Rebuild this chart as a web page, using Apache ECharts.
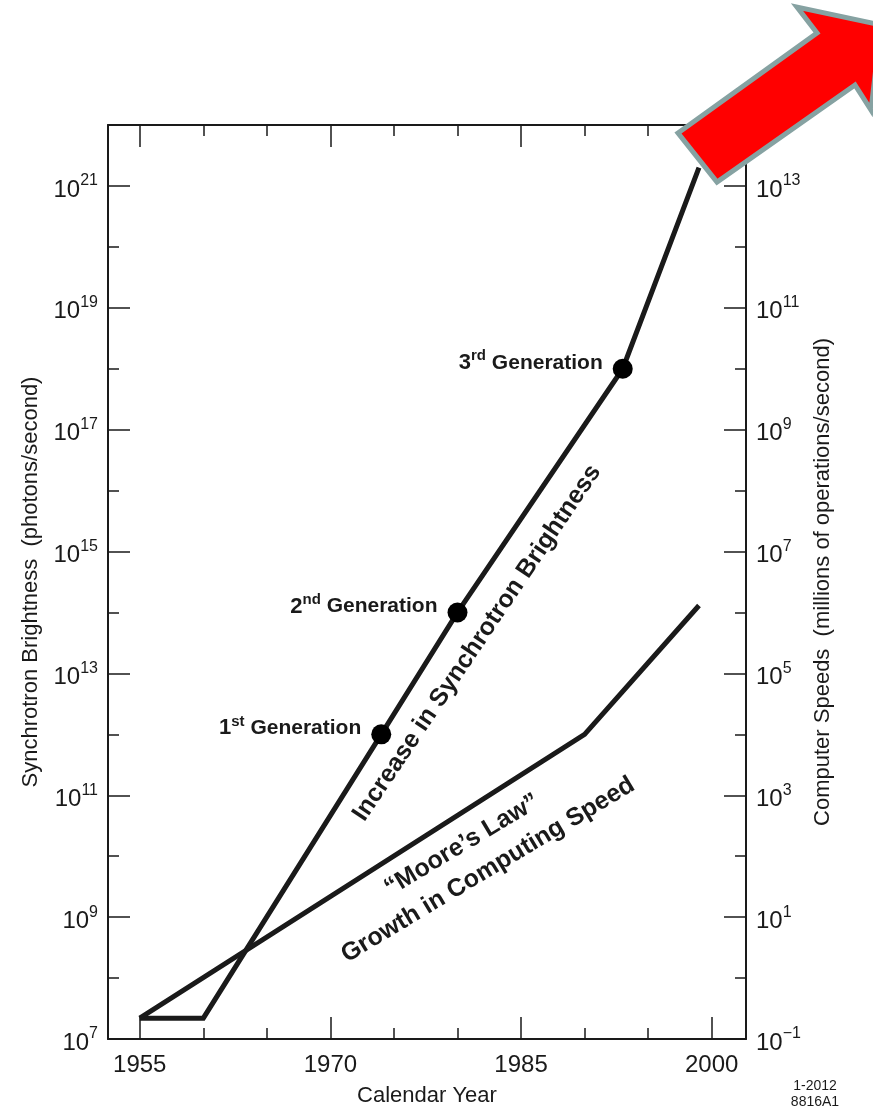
<!DOCTYPE html>
<html>
<head>
<meta charset="utf-8">
<title>Synchrotron Brightness and Computer Speeds</title>
<script src="https://cdn.jsdelivr.net/npm/echarts@6/dist/echarts.min.js"></script>
<style>
    html, body { margin: 0; padding: 0; background: #fff; }
    #chart { width: 873px; height: 1112px; }
</style>
</head>
<body>
<div id="chart"></div>
<script>
// calendar year ticks
const yearMajor = [1955, 1970, 1985, 2000];
const yearMinor = [1955, 1960, 1965, 1970, 1975, 1980, 1985, 1990, 1995, 2000];

// synchrotron brightness, photons/second (left axis)
const brightYears = [1955, 1960, 1974, 1980, 1993, 1999];
const brightValues = [2.2e7, 2.2e7, 1e12, 1e14, 1e18, 2e21];

// generation markers sitting on the brightness curve
const genYears = [1974, 1980, 1993];
const genValues = [1e12, 1e14, 1e18];
const genNum = ['1', '2', '3'];
const genSuffix = ['st', 'nd', 'rd'];

// computer speed, millions of operations/second (right axis)
const mooreYears = [1955, 1990, 1999];
const mooreValues = [0.22, 1e4, 1.3e6];

// decades (powers of ten) spanned by each vertical axis
const leftDecades = [7, 22];
const rightDecades = [-1, 14];

const font = '"Liberation Sans", Arial, Helvetica, sans-serif';
const ink = '#1a1a1a';

const powRich = {
    b: {fontSize: 24, lineHeight: 34, fontFamily: font, color: ink}
    , s: {fontSize: 16, lineHeight: 17, verticalAlign: 'top', fontFamily: font, color: ink}
};

// only odd decades carry a label, e.g. 10^21
function powLabel(v) {
    if (Math.abs(v % 2) !== 1) {
        return '';
    }
    const e = v < 0 ? '\u2212' + Math.abs(v) : String(v);
    return '{b|10}{s|' + e + '}';
}

function yMajor(pos, range, name, gap) {
    return {
        type: 'value'
        , position: pos
        , min: range[0]
        , max: range[1]
        , interval: 2
        , name: name
        , nameLocation: 'middle'
        , nameGap: gap
        , nameRotate: 90
        , nameTextStyle: {fontSize: 22, fontFamily: font, color: ink}
        , axisLine: {show: true, onZero: false, lineStyle: {color: ink, width: 2}}
        , axisTick: {show: true, inside: true, length: 22, lineStyle: {color: ink, width: 1.5}}
        , axisLabel: {show: true, margin: 10, padding: [8, 0, 0, 0], formatter: powLabel, rich: powRich}
        , splitLine: {show: false}
    };
}

function yMinor(pos, range) {
    return {
        type: 'value'
        , position: pos
        , min: range[0]
        , max: range[1]
        , interval: 1
        , axisLine: {show: false, onZero: false}
        , axisTick: {show: true, inside: true, length: 11, lineStyle: {color: ink, width: 1.5}}
        , axisLabel: {show: false}
        , splitLine: {show: false}
    };
}

function xAxisDef(pos, ticks, len, withLabels) {
    const axis = {
        type: 'value'
        , position: pos
        , min: 1952.5
        , max: 2002.7
        , axisLine: {show: len > 20, onZero: false, lineStyle: {color: ink, width: 2}}
        , axisTick: {show: true, inside: true, length: len, customValues: ticks, lineStyle: {color: ink, width: 1.5}}
        , axisLabel: {show: false}
        , splitLine: {show: false}
    };
    if (withLabels) {
        axis.axisLabel = {
            show: true
            , customValues: ticks
            , margin: 14
            , fontSize: 24
            , fontFamily: font
            , color: ink
            , formatter: function (v) {
                return String(v);
            }
        };
        axis.name = 'Calendar Year';
        axis.nameLocation = 'middle';
        axis.nameGap = 46;
        axis.nameTextStyle = {fontSize: 22, fontFamily: font, color: ink};
    }
    return axis;
}

const brightData = brightYears.map(function (y, i) {
    return [y, Math.log10(brightValues[i])];
});
const mooreData = mooreYears.map(function (y, i) {
    return [y, Math.log10(mooreValues[i])];
});
const genData = genYears.map(function (y, i) {
    return [y, Math.log10(genValues[i])];
});

const deg = Math.PI / 180;
const arrowPoints = [[678, 133], [817, 33], [797, 7], [881, 25], [871, 110], [855, 85], [717, 182]];

const chart = echarts.init(document.getElementById('chart'));
chart.setOption({
    animation: false
    , backgroundColor: '#fff'
    , textStyle: {fontFamily: font}
    , grid: {left: 108, right: 127, top: 125, bottom: 72, containLabel: false}
    , xAxis: [
        xAxisDef('bottom', yearMajor, 22, true)
        , xAxisDef('bottom', yearMinor, 11, false)
        , xAxisDef('top', yearMajor, 22, false)
        , xAxisDef('top', yearMinor, 11, false)
    ]
    , yAxis: [
        yMajor('left', leftDecades, 'Synchrotron Brightness  (photons/second)', 66)
        , yMajor('right', rightDecades, 'Computer Speeds  (millions of operations/second)', 61)
        , yMinor('left', leftDecades)
        , yMinor('right', rightDecades)
    ]
    , series: [
        {
            type: 'line'
            , name: 'Synchrotron Brightness'
            , xAxisIndex: 0
            , yAxisIndex: 0
            , data: brightData
            , symbol: 'none'
            , lineStyle: {color: ink, width: 5, join: 'miter'}
            , z: 3
        }
        , {
            type: 'line'
            , name: 'Computer Speed'
            , xAxisIndex: 0
            , yAxisIndex: 1
            , data: mooreData
            , symbol: 'none'
            , lineStyle: {color: ink, width: 5, join: 'miter'}
            , z: 3
        }
        , {
            type: 'scatter'
            , name: 'Generations'
            , xAxisIndex: 0
            , yAxisIndex: 0
            , data: genData
            , symbolSize: 20
            , itemStyle: {color: '#000', opacity: 1}
            , label: {
                show: true
                , position: 'left'
                , distance: 10
                , offset: [0, -6]
                , formatter: function (p) {
                    return '{n|' + genNum[p.dataIndex] + '}{s|' + genSuffix[p.dataIndex] + '}{g| Generation}';
                }
                , rich: {
                    n: {fontSize: 22, fontWeight: 'bold', lineHeight: 28, fontFamily: font, color: ink}
                    , s: {fontSize: 15, fontWeight: 'bold', lineHeight: 15, verticalAlign: 'top', fontFamily: font, color: ink}
                    , g: {fontSize: 21, fontWeight: 'bold', lineHeight: 28, fontFamily: font, color: ink}
                }
            }
            , z: 4
        }
    ]
    , graphic: [
        {
            type: 'text'
            , x: 477
            , y: 643
            , rotation: 56 * deg
            , style: {text: 'Increase in Synchrotron Brightness', fill: ink, font: 'bold 25px ' + font, align: 'center', verticalAlign: 'middle'}
        }
        , {
            type: 'text'
            , x: 462
            , y: 845
            , rotation: 31 * deg
            , style: {text: '\u201cMoore\u2019s Law\u201d', fill: ink, font: 'bold 25px ' + font, align: 'center', verticalAlign: 'middle'}
        }
        , {
            type: 'text'
            , x: 488
            , y: 870
            , rotation: 31 * deg
            , style: {text: 'Growth in Computing Speed', fill: ink, font: 'bold 25px ' + font, align: 'center', verticalAlign: 'middle'}
        }
        , {
            type: 'text'
            , x: 815
            , y: 1078
            , style: {text: '1-2012\n8816A1', fill: ink, font: '14px ' + font, align: 'center', lineHeight: 16}
        }
        , {
            type: 'polygon'
            , shape: {points: arrowPoints}
            , style: {fill: '#ff0000', stroke: '#86a2a2', lineWidth: 5, lineJoin: 'miter'}
            , z: 100
        }
    ]
});
</script>
</body>
</html>
